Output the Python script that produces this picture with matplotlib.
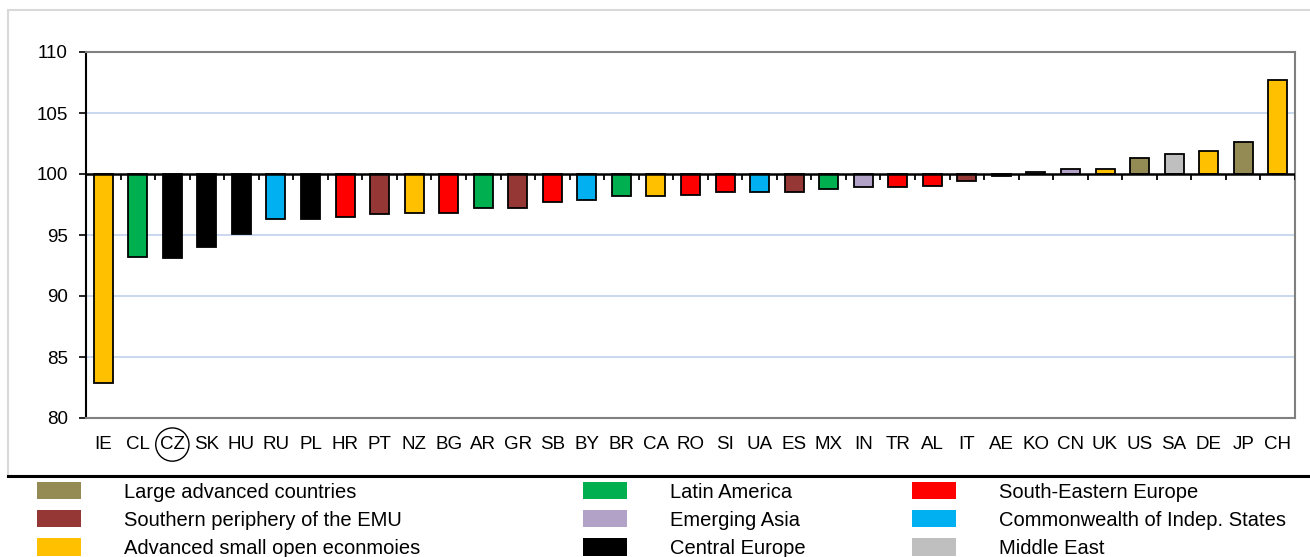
import numpy as np
import matplotlib
matplotlib.use('Agg')
import matplotlib.pyplot as plt
from matplotlib.patches import Patch, Rectangle
from matplotlib.lines import Line2D

plt.rcParams['font.family'] = ['Liberation Sans', 'DejaVu Sans']

# 国家代码与指数（基期 = 100）
countries = ['IE', 'CL', 'CZ', 'SK', 'HU', 'RU', 'PL', 'HR', 'PT', 'NZ', 'BG', 'AR',
             'GR', 'SB', 'BY', 'BR', 'CA', 'RO', 'SI', 'UA', 'ES', 'MX', 'IN', 'TR',
             'AL', 'IT', 'AE', 'KO', 'CN', 'UK', 'US', 'SA', 'DE', 'JP', 'CH']
values = [82.9, 93.2, 93.15, 94.0, 95.1, 96.3, 96.35, 96.5, 96.7, 96.8, 96.8, 97.25,
          97.2, 97.7, 97.9, 98.2, 98.2, 98.3, 98.5, 98.5, 98.5, 98.75, 98.9, 98.9,
          99.05, 99.45, 99.87, 100.15, 100.45, 100.45, 101.3, 101.6, 101.85, 102.6, 107.7]
groups = ['small', 'latam', 'ce', 'ce', 'ce', 'cis', 'ce', 'see', 'south', 'small', 'see', 'latam',
          'south', 'see', 'cis', 'latam', 'small', 'see', 'see', 'cis', 'south', 'latam', 'asia', 'see',
          'see', 'south', 'me', 'asia', 'asia', 'small', 'large', 'me', 'small', 'large', 'small']

group_keys = ['large', 'south', 'small', 'latam', 'asia', 'ce', 'see', 'cis', 'me']
group_names = ['Large advanced countries', 'Southern periphery of the EMU',
               'Advanced small open econmoies', 'Latin America', 'Emerging Asia',
               'Central Europe', 'South-Eastern Europe', 'Commonwealth of Indep. States',
               'Middle East']
group_colors = ['#948A54', '#953735', '#FFC000', '#00B050', '#B3A2C7',
                '#000000', '#FF0000', '#00B0F0', '#BFBFBF']
color_of = dict(zip(group_keys, group_colors))

base = 100
fs = 13.5       # 坐标轴文字
fs_leg = 14.5   # 图例文字

fig = plt.figure(figsize=(13.1, 5.57), dpi=100)
W, H = 1310, 557

# 外框：浅灰色边框 + 底部黑线
fig.add_artist(Rectangle((8 / W, 1 - 476 / H), 1.2, (476 - 10) / H,
                         transform=fig.transFigure, fc='white', ec='#D9D9D9', lw=1.5,
                         zorder=0))
fig.add_artist(Line2D([8 / W, 1.0], [1 - 476 / H] * 2, transform=fig.transFigure,
                      color='black', lw=2.2))

ax = fig.add_axes([86 / W, 1 - 418 / H, (1295 - 86) / W, (418 - 52) / H])
ax.set_facecolor('white')

x = np.arange(len(countries))
vals = np.array(values)
ax.bar(x, vals - base, bottom=base, width=0.55,
       color=[color_of[g] for g in groups], edgecolor='black', linewidth=1.3, zorder=3)

ax.set_xlim(-0.5, len(countries) - 0.5)
ax.set_ylim(80, 110)
ax.set_yticks(np.arange(80, 111, 5))
for yv in [85, 90, 95, 105]:
    ax.axhline(yv, color='#C5D5EE', lw=1.3, zorder=1)

# 基准线 100 及其分类刻度
ax.axhline(base, color='black', lw=1.8, zorder=4)
ax.vlines(np.arange(len(countries) + 1) - 0.5, base - 0.5, base, color='black', lw=1.3, zorder=4)

ax.set_xticks(x)
ax.set_xticklabels(countries, fontsize=fs)
ax.tick_params(axis='x', length=0, pad=13)
ax.tick_params(axis='y', labelsize=fs, length=5, width=1.2, direction='out', pad=8)

for side in ['top', 'right', 'bottom']:
    ax.spines[side].set_color('#808080')
    ax.spines[side].set_linewidth(1.5)
ax.spines['left'].set_color('black')
ax.spines['left'].set_linewidth(1.5)

# 圈出 CZ
for lab in ax.get_xticklabels():
    if lab.get_text() == 'CZ':
        lab.set_bbox(dict(boxstyle='circle,pad=0.22', fc='none', ec='black', lw=1.0))

# 图例：三列
col_x = [37 / W, 583 / W, 912 / W]
for c in range(3):
    handles = [Patch(facecolor=group_colors[i], edgecolor='none', label=group_names[i])
               for i in range(c * 3, c * 3 + 3)]
    fig.legend(handles=handles, loc='upper left', bbox_to_anchor=(col_x[c], 1 - 482 / H),
               frameon=False, fontsize=fs_leg, handlelength=2.2, handleheight=0.95,
               handletextpad=2.1, labelspacing=0.42, borderaxespad=0, borderpad=0)

fig.savefig('out.png', dpi=100)
